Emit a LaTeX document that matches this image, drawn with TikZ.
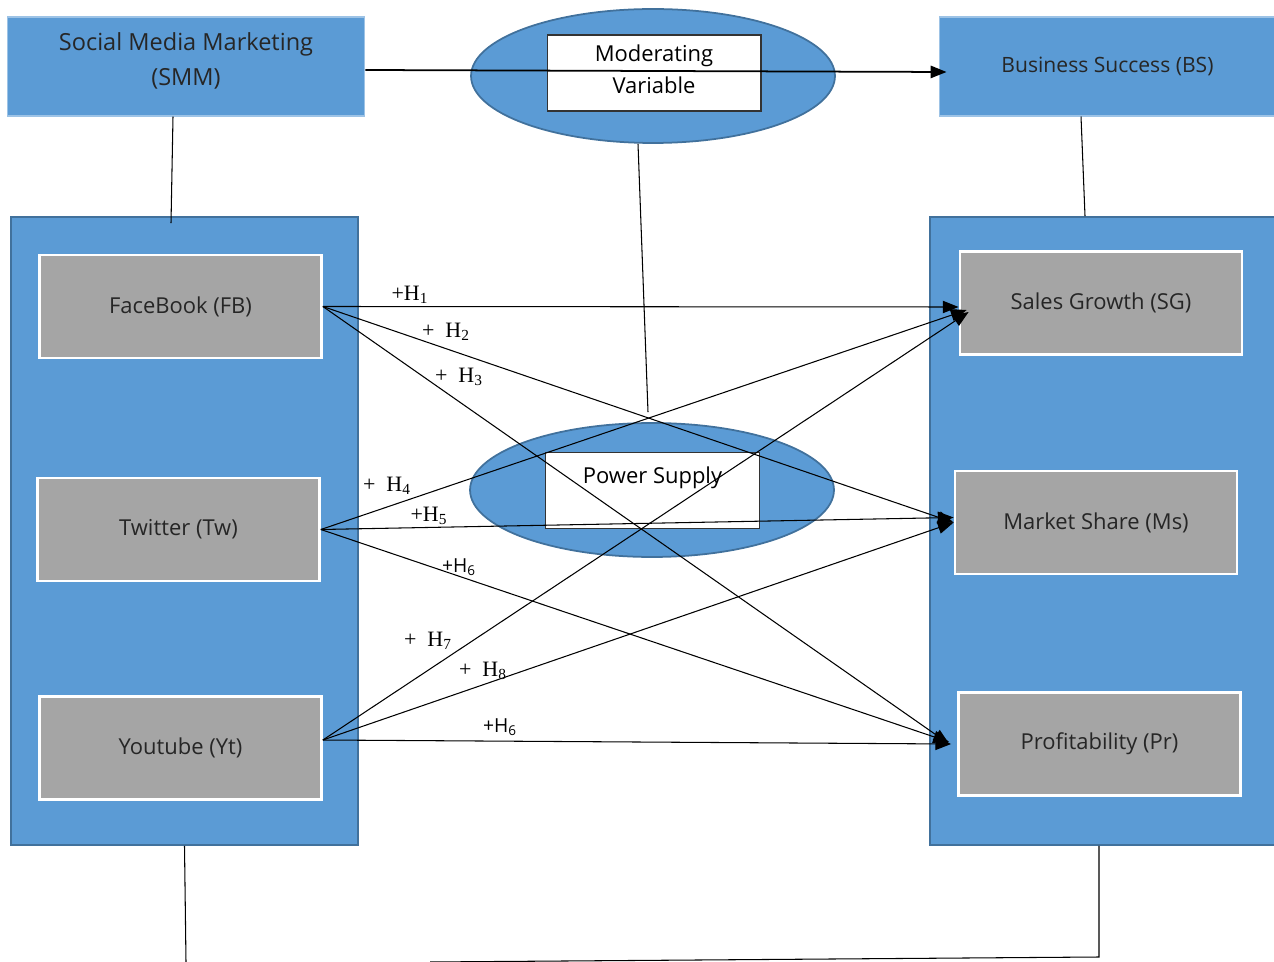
\documentclass[tikz,border=0pt]{standalone}
\usepackage{fontspec}
\setmainfont{Open Sans}
\newfontfamily\hfont{Liberation Serif}
\usepackage{tikz}
\usetikzlibrary{arrows.meta, positioning, shapes.geometric, calc}
\usepackage{xcolor}
\definecolor{boxblue}{HTML}{5B9BD5}
\definecolor{edgeblue}{HTML}{41719C}
\definecolor{boxgrey}{HTML}{A5A5A5}

\begin{document}
\begin{tikzpicture}[x=0.02cm, y=-0.02cm,
    every node/.style={font=\fontsize{12.5}{19}\selectfont, text=black!85},
    topbox/.style={fill=boxblue, draw=boxblue!60!white, line width=0.6pt, minimum height=1.98cm, align=center},
    panel/.style={fill=boxblue, draw=edgeblue, line width=1pt, minimum height=12.56cm},
    item/.style={fill=boxgrey, draw=white, line width=1.6pt, minimum width=5.64cm, minimum height=2.06cm},
    oval/.style={ellipse, fill=boxblue, draw=edgeblue, line width=1pt, minimum width=7.28cm, minimum height=2.68cm},
    inbox/.style={fill=white, draw=black!80, line width=0.6pt, minimum width=4.28cm, minimum height=1.52cm, align=center, font=\fontsize{12.5}{18}\selectfont, text=black},
    link/.style={line width=0.6pt},
    hyp/.style={-{Triangle[length=9pt,width=7pt]}, line width=0.6pt},
    hlab/.style={font=\hfont\fontsize{12.5}{14}\selectfont, text=black},
    slab/.style={font=\fontsize{11}{12}\selectfont, text=black}]
    \useasboundingbox (0,0) rectangle (1274,962);

    \node[topbox, minimum width=7.16cm, font=\fontsize{13.4}{19.5}\selectfont, text depth=0.3cm] (smm) at (186,66.5) {Social Media Marketing\\(SMM)};
    \node[topbox, minimum width=6.74cm, font=\fontsize{12}{19}\selectfont] (bs) at (1107.5,66.5) {Business Success (BS)};
    \node[panel, minimum width=6.94cm] (lc) at (184.5,531) {};
    \node[panel, minimum width=7cm] (rc) at (1105,531) {};

    \node[item] (fb) at (180.5,306.5) {FaceBook (FB)};
    \node[item] (tw) at (178.5,529.5) {Twitter (Tw)};
    \node[item] (yt) at (180.5,748) {Youtube (Yt)};
    \node[item] (sg) at (1101,303) {Sales Growth (SG)};
    \node[item] (ms) at (1096,522.5) {Market Share (Ms)};
    \node[item] (pr) at (1099.5,744) {Profitability (Pr)};

    \node[oval] (mv) at (653,76) {};
    \node[inbox, text depth=0.15cm] (mvt) at (654,73) {Moderating\\Variable};
    \node[oval] (pso) at (652,490) {};
    \node[inbox] (ps) at (652.5,490.5) {Power Supply\\~};

    \draw[-{Triangle[length=9pt,width=7pt]}, line width=1pt] ([yshift=-0.07cm]smm.east) -- ([xshift=0.16cm, yshift=-0.11cm]bs.west);
    \draw[link] ([xshift=-0.26cm]smm.south) -- ([xshift=-0.27cm, yshift=-0.14cm]lc.north);
    \draw[link] ([xshift=-0.53cm]bs.south) -- ([xshift=-0.4cm]rc.north);
    \draw[link] ([xshift=-0.3cm]mv.south) -- ([xshift=-0.08cm, yshift=0.2cm]pso.north);

    \draw[hyp] (fb.east) -- ([yshift=-0.08cm]sg.west);
    \draw[hyp] (fb.east) -- (ms.west);
    \draw[hyp] (fb.east) -- ([xshift=-0.16cm]pr.west);
    \draw[hyp] (tw.east) -- ([xshift=0.16cm, yshift=-0.14cm]sg.west);
    \draw[hyp] (tw.east) -- ([yshift=0.1cm]ms.west);
    \draw[hyp] (tw.east) -- ([xshift=-0.16cm, yshift=0.04cm]pr.west);
    \draw[hyp] ([yshift=0.16cm]yt.east) -- ([xshift=0.2cm, yshift=-0.18cm]sg.west);
    \draw[hyp] ([yshift=0.16cm]yt.east) -- (ms.west);
    \draw[hyp] ([yshift=0.16cm]yt.east) -- ([xshift=-0.12cm]pr.west);

    \node[hlab] (h1) at (410,295) {+H\textsubscript{1}};
    \node[hlab] (h2) at (446,332) {+\ \ H\textsubscript{2}};
    \node[hlab] (h3) at (459,377) {+\ \ H\textsubscript{3}};
    \node[hlab] (h4) at (387,486) {+\ \ H\textsubscript{4}};
    \node[hlab] (h5) at (429,516) {+H\textsubscript{5}};
    \node[slab] (h6) at (459,567) {+H\textsubscript{6}};
    \node[hlab] (h7) at (428,641) {+\ \ H\textsubscript{7}};
    \node[hlab] (h8) at (483,671) {+\ \ H\textsubscript{8}};
    \node[slab] (h9) at (500,727) {+H\textsubscript{6}};

    \coordinate (b1) at (186,962);
    \coordinate (b2) at (1099,957);
    \coordinate (b3) at (430,962);
    \draw[link] (lc.south) -- (b1);
    \draw[link] (rc.south -| b2) -- (b2) -- (b3);
\end{tikzpicture}
\end{document}
